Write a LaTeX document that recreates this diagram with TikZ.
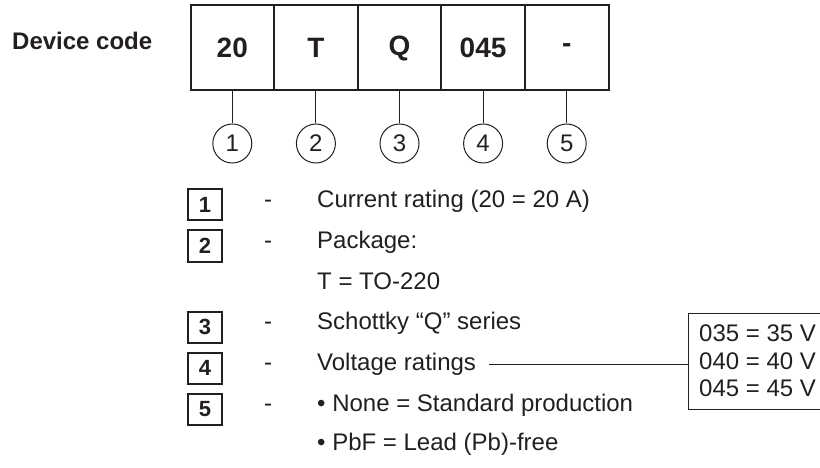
\documentclass[tikz,border=0pt]{standalone}
\usepackage{fontspec}
\setmainfont{Liberation Sans}
\usetikzlibrary{positioning, fit}
\definecolor{ink}{RGB}{35, 31, 32}
\tikzset{
  cell/.style={
    rectangle, draw=ink, line width=1pt,
    minimum width=82.6pt, minimum height=84pt, inner sep=0pt,
    font=\fontsize{28}{32}\selectfont\bfseries, text=ink
  },
  callout/.style={
    circle, draw=ink, line width=1pt,
    minimum size=39pt, inner sep=0pt,
    font=\fontsize{24}{28}\selectfont, text=ink
  },
  keybox/.style={
    rectangle, draw=ink, line width=2pt,
    minimum width=34pt, minimum height=31pt, inner sep=0pt,
    font=\fontsize{22}{26}\selectfont\bfseries, text=ink
  },
  desc/.style={
    anchor=mid west, inner sep=0pt,
    font=\fontsize{24}{28}\selectfont, text=ink
  },
  lead/.style={draw=ink, line width=1pt},
}
\begin{document}
\begin{tikzpicture}[x=1pt, y=-1pt]
  \useasboundingbox (0,0) rectangle (820,468);

  % Code fields
  \node[anchor=mid west, inner sep=0pt, text=ink,
        font=\fontsize{24}{28}\selectfont\bfseries] (title) at (12,47) {Device code};
  \node[cell] (c1) at (232.3,48) {20};
  \node[cell, right=0pt of c1] (c2) {T};
  \node[cell, right=0pt of c2] (c3) {Q};
  \node[cell, right=0pt of c3] (c4) {045};
  \node[cell, right=0pt of c4] (c5) {-};
  \node[fit=(c1)(c5), draw=ink, line width=2pt, inner sep=0pt] (code) {};

  % Callouts
  \node[callout, below=33pt of c1] (n1) {1};
  \node[callout, below=33pt of c2] (n2) {2};
  \node[callout, below=33pt of c3] (n3) {3};
  \node[callout, below=33pt of c4] (n4) {4};
  \node[callout, below=33pt of c5] (n5) {5};

  \draw[lead] (c1.south) -- (n1);
  \draw[lead] (c2.south) -- (n2);
  \draw[lead] (c3.south) -- (n3);
  \draw[lead] (c4.south) -- (n4);
  \draw[lead] (c5.south) -- (n5);

  % Legend
  \node[keybox] (k1) at (205,205) {1};
  \node[keybox] (k2) at (205,246) {2};
  \node[keybox] (k3) at (205,327) {3};
  \node[keybox] (k4) at (205,368) {4};
  \node[keybox] (k5) at (205,409) {5};

  \node[desc] (s1) at (264,205) {-};
  \node[desc] (s2) at (264,246) {-};
  \node[desc] (s3) at (264,327) {-};
  \node[desc] (s4) at (264,368) {-};
  \node[desc] (s5) at (264,409) {-};

  \node[desc] (d1)  at (317,205) {Current rating (20 = 20 A)};
  \node[desc] (d2)  at (317,246) {Package:};
  \node[desc] (d2b) at (317,287) {T = TO-220};
  \node[desc] (d3)  at (317,327) {Schottky “Q” series};
  \node[desc] (d4)  at (317,368) {Voltage ratings};
  \node[desc] (d5)  at (317,409) {• None = Standard production};
  \node[desc] (d5b) at (317,448) {• PbF = Lead (Pb)-free};

  % Voltage table
  \node[anchor=north west, align=left, inner xsep=11pt, inner ysep=12pt,
        text=ink, font=\fontsize{24}{27.5}\selectfont] (volt) at (688,313)
        {035 = 35 V\\040 = 40 V\\045 = 45 V};
  \draw[lead] (volt.north east) -- (volt.north west) -- (volt.south west) -- (volt.south east);
  \draw[lead] ([xshift=13pt]d4.east) -- (volt.west |- d4.east);

\end{tikzpicture}
\end{document}
